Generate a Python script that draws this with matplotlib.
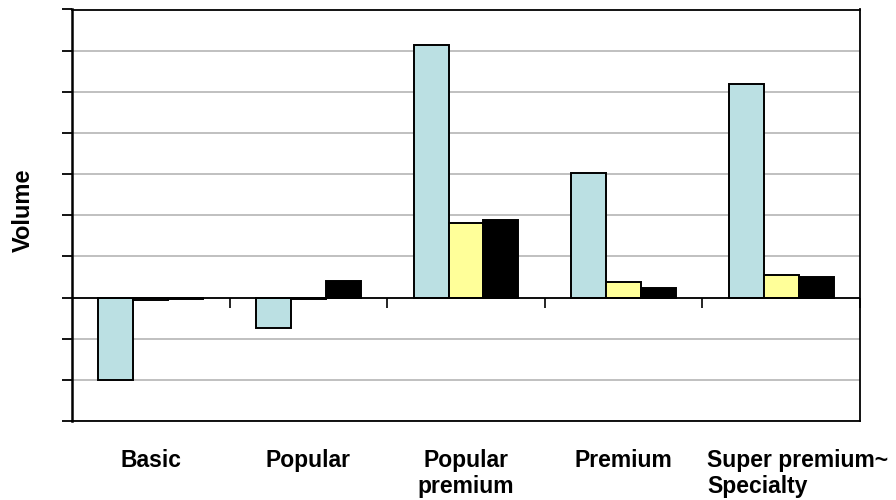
import matplotlib
matplotlib.use("Agg")
import matplotlib.pyplot as plt
import numpy as np

# Data
categories = ["Basic", "Popular", "Popular\npremium", "Premium", "Super premium~\nSpecialty"]
series_a = [-2.0, -0.74, 6.13, 3.02, 5.2]
series_b = [-0.07, -0.03, 1.82, 0.39, 0.545]
series_c = [-0.04, 0.41, 1.89, 0.22, 0.51]
y_ticks = list(range(-3, 8))

colors = ["#BBE0E3", "#FFFF99", "#000000"]

plt.rcParams["font.family"] = ["Liberation Sans", "DejaVu Sans"]

fig = plt.figure(figsize=(8.96, 5.0), dpi=100)
ax = fig.add_axes([72 / 896, 1 - 421 / 500, (860 - 72) / 896, (421 - 9.5) / 500])

x = np.arange(len(categories))
w = 0.222
for k, (vals, col) in enumerate(zip([series_a, series_b, series_c], colors)):
    ax.bar(x + (k - 1) * w, vals, width=w, color=col, edgecolor="black",
           linewidth=1.4, zorder=3)

ax.set_xlim(-0.5, len(categories) - 0.5)
ax.set_ylim(y_ticks[0], y_ticks[-1])

# Horizontal gridlines and outward y ticks without labels
ax.set_yticks(y_ticks)
ax.set_yticklabels([])
ax.yaxis.grid(True, color="#c0c0c0", linewidth=1.4, zorder=0)
ax.tick_params(axis="y", direction="out", length=7, width=1.3, color="black")

# Category axis through zero with tick marks at the boundaries
ax.axhline(0, color="black", linewidth=1.3, zorder=4)
bounds = np.arange(len(categories) + 1) - 0.5
ax.plot(bounds[1:], np.zeros(len(bounds) - 1), ls="none", marker=3, ms=7,
        mew=1.2, color="black", zorder=4, clip_on=False)

# Category labels below the plot frame
ax.set_xticks([])
for i, name in enumerate(categories):
    last = i == len(categories) - 1
    ax.annotate(name, xy=(i - 0.47 if last else i, 0),
                xycoords=("data", "axes fraction"),
                xytext=(0, -20.5), textcoords="offset points",
                ha="left" if last else "center", va="top",
                multialignment="left" if last else "center",
                fontsize=16.5, fontweight="bold", linespacing=1.12,
                annotation_clip=False)

for s in ax.spines.values():
    s.set_linewidth(1.3)
ax.spines["left"].set_linewidth(1.8)

fig.text(23 / 896, 1 - 210 / 500, "Volume", rotation=90, ha="center",
         va="center", fontsize=17, fontweight="bold")

fig.savefig("out.png", dpi=100)
